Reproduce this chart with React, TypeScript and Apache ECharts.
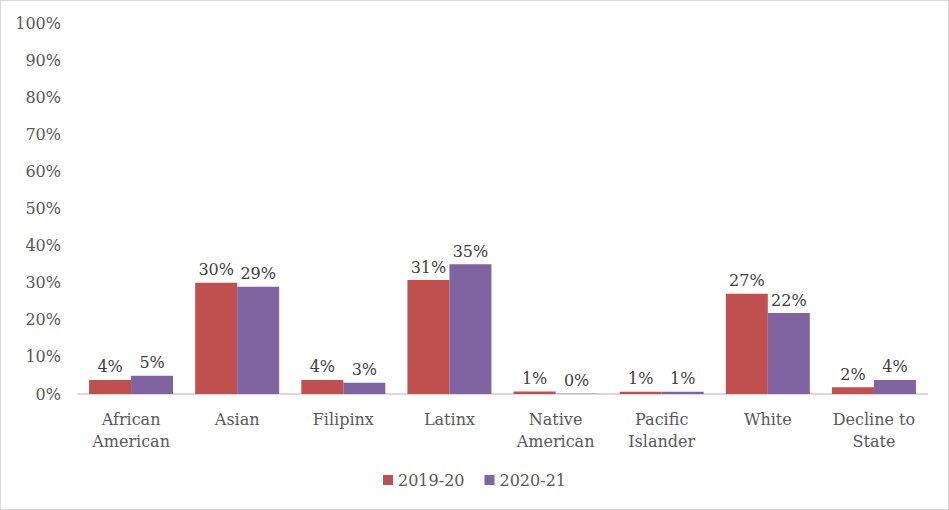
import React, { useEffect, useRef } from "react";
import * as echarts from "echarts";

const categories = [
  "African\nAmerican",
  "Asian",
  "Filipinx",
  "Latinx",
  "Native\nAmerican",
  "Pacific\nIslander",
  "White",
  "Decline to\nState",
];
const seriesNames = ["2019-20", "2020-21"];
const values2019 = [0.038, 0.3, 0.038, 0.307, 0.007, 0.006, 0.27, 0.018];
const values2020 = [0.049, 0.289, 0.03, 0.35, 0.001, 0.006, 0.218, 0.038];
const colors = ["#C0504D", "#8064A2"];

const FONT = "DejaVu Serif";
const TEXT = "#595959";

export default function App() {
  const ref = useRef<HTMLDivElement>(null);
  useEffect(() => {
    document.body.style.margin = "0";
    const chart = echarts.init(ref.current!, null, { renderer: "svg" });
    const pct = (v: number) => Math.round(v * 100) + "%";
    const mk = (name: string, data: number[], color: string) => ({
      name,
      type: "bar",
      data,
      barWidth: 42,
      barGap: "0%",
      itemStyle: { color },
      label: {
        show: true,
        position: "top",
        distance: 5,
        formatter: (p: any) => pct(p.value),
        fontFamily: FONT,
        fontSize: 16,
        color: "#404040",
      },
    });
    chart.setOption({
      animation: false,
      backgroundColor: "#fff",
      textStyle: { fontFamily: FONT },
      grid: { left: 77, right: 21, top: 22, bottom: 115, containLabel: false },
      legend: {
        bottom: 16,
        left: "center",
        itemWidth: 10,
        itemHeight: 10,
        itemGap: 20,
        icon: "rect",
        textStyle: { fontFamily: FONT, fontSize: 16, color: TEXT },
        data: seriesNames,
      },
      xAxis: {
        type: "category",
        data: categories,
        axisLine: { lineStyle: { color: "#d9d9d9", width: 2 } },
        axisTick: { show: false },
        axisLabel: {
          fontFamily: FONT,
          fontSize: 16,
          color: TEXT,
          lineHeight: 22,
          margin: 14,
          interval: 0,
        },
      },
      yAxis: {
        type: "value",
        min: 0,
        max: 1,
        interval: 0.1,
        axisLine: { show: false },
        axisTick: { show: false },
        splitLine: { show: false },
        axisLabel: {
          formatter: (v: number) => Math.round(v * 100) + "%",
          fontFamily: FONT,
          fontSize: 16,
          color: TEXT,
          margin: 17,
        },
      },
      series: [mk(seriesNames[0], values2019, colors[0]), mk(seriesNames[1], values2020, colors[1])],
    });
    return () => chart.dispose();
  }, []);
  return (
    <div
      style={{
        position: "fixed",
        left: 0,
        top: 0,
        width: 949,
        height: 510,
        boxSizing: "border-box",
        border: "1px solid #d9d9d9",
        background: "#fff",
      }}
    >
      <div ref={ref} style={{ width: 947, height: 508 }} />
    </div>
  );
}
